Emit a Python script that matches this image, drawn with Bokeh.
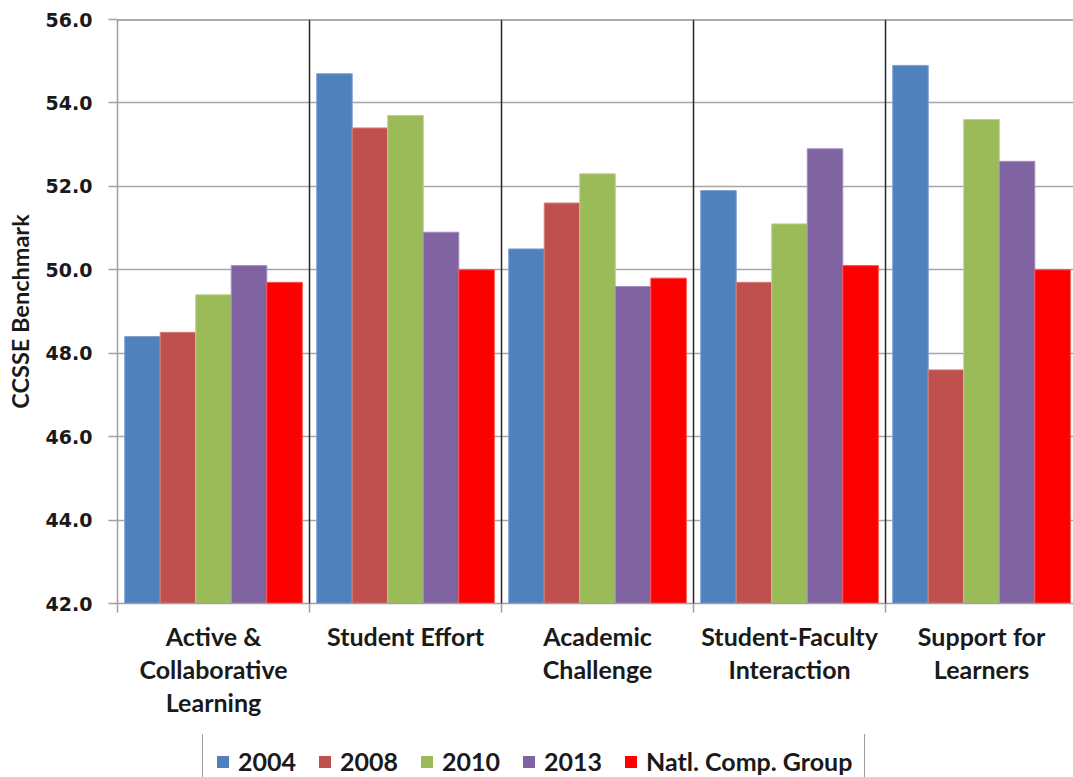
from bokeh.plotting import figure
from bokeh.layouts import column
from bokeh.models import (Range1d, FixedTicker, Span, Legend, LegendItem,
                          ColumnDataSource, PrintfTickFormatter)
from bokeh.embed import file_html
from bokeh.resources import INLINE

# ---- data -------------------------------------------------------------
categories = [
    "Active &\nCollaborative\nLearning",
    "Student Effort",
    "Academic\nChallenge",
    "Student-Faculty\nInteraction",
    "Support for\nLearners",
]
series_names = ["2004", "2008", "2010", "2013", "Natl. Comp. Group"]
v2004 = [48.4, 54.7, 50.5, 51.9, 54.9]
v2008 = [48.5, 53.4, 51.6, 49.7, 47.6]
v2010 = [49.4, 53.7, 52.3, 51.1, 53.6]
v2013 = [50.1, 50.9, 49.6, 52.9, 52.6]
natl = [49.7, 50.0, 49.8, 50.1, 50.0]
y_ticks = [42, 44, 46, 48, 50, 52, 54, 56]

series_values = [v2004, v2008, v2010, v2013, natl]
fill_colors = ["#4F81BD", "#C0504D", "#9BBB59", "#8064A2", "#FF0000"]
edge_colors = ["#7FA3D2", "#D47E7C", "#B8D08A", "#A38DBE", "#FF5050"]

TEXT = "#1A1A1A"
LABEL_FONT = "Lato"

# ---- chart ------------------------------------------------------------
p = figure(width=1073, height=734, output_backend="svg", toolbar_location=None,
           x_range=Range1d(0, 4.979), y_range=Range1d(42, 56),
           min_border_left=117, min_border_right=0, min_border_top=19,
           min_border_bottom=131)
p.background_fill_color = "white"
p.border_fill_color = "white"
p.outline_line_color = None

bar_w = 0.185
n_series = len(series_names)
sources = []
for k, vals in enumerate(series_values):
    offset = (k - (n_series - 1) / 2) * bar_w
    src = ColumnDataSource(dict(
        x=[i + 0.5 + offset for i in range(len(categories))],
        top=vals,
    ))
    sources.append(src)
    p.vbar(x="x", top="top", bottom=42, width=bar_w, source=src,
           fill_color=fill_colors[k], line_color=edge_colors[k], line_width=1)

# grid and frame lines
p.xgrid.visible = False
p.ygrid.ticker = FixedTicker(ticks=y_ticks)
p.ygrid.grid_line_color = "#A6A6A6"
p.ygrid.grid_line_width = 1.5

for b in range(1, len(categories)):
    p.add_layout(Span(location=b, dimension="height", line_color="#262626",
                      line_width=1.5))
p.add_layout(Span(location=56, dimension="width", line_color="#595959",
                  line_width=2))

# y axis
yax = p.yaxis[0]
yax.ticker = FixedTicker(ticks=y_ticks)
yax.formatter = PrintfTickFormatter(format="%.1f")
yax.axis_label = "CCSSE Benchmark"
yax.axis_label_text_font = LABEL_FONT
yax.axis_label_text_font_style = "bold"
yax.axis_label_text_font_size = "23.5px"
yax.axis_label_text_color = TEXT
yax.axis_label_standoff = 9
yax.major_label_text_font = "DejaVu Sans"
yax.major_label_text_font_style = "bold"
yax.major_label_text_font_size = "19px"
yax.major_label_text_color = TEXT
yax.major_label_standoff = 16
yax.axis_line_color = "#A0A0A0"
yax.axis_line_width = 1.5
yax.major_tick_line_color = "#A0A0A0"
yax.major_tick_line_width = 1.5
yax.major_tick_out = 9
yax.major_tick_in = 0
yax.minor_tick_line_color = None

# x axis: labels at group centres, short ticks at group boundaries
xax = p.xaxis[0]
xax.ticker = FixedTicker(ticks=[i + 0.5 for i in range(len(categories))],
                         minor_ticks=list(range(len(categories) + 1)))
xax.major_label_overrides = {i + 0.5: c for i, c in enumerate(categories)}
xax.major_label_text_font = LABEL_FONT
xax.major_label_text_font_style = "bold"
xax.major_label_text_font_size = "25px"
xax.major_label_text_color = TEXT
xax.major_label_text_line_height = 1.1
xax.major_label_standoff = 8
xax.axis_line_color = "#A0A0A0"
xax.axis_line_width = 1.5
xax.major_tick_line_color = None
xax.major_tick_out = 0
xax.major_tick_in = 0
xax.minor_tick_line_color = "#A0A0A0"
xax.minor_tick_line_width = 1.5
xax.minor_tick_out = 9
xax.minor_tick_in = 0

# ---- legend strip -----------------------------------------------------
# The strip shares the series sources; its ranges lie far away from the
# data, so only the legend swatches of these renderers are visible.
lg = figure(width=1073, height=43, output_backend="svg", toolbar_location=None,
            x_range=Range1d(1000, 1001), y_range=Range1d(1000, 1001),
            x_axis_location=None, y_axis_location=None,
            min_border=0)
lg.grid.visible = False
lg.outline_line_color = None
lg.background_fill_color = "white"
lg.border_fill_color = "white"

swatches = [lg.vbar(x="x", top="top", bottom=42, width=bar_w, source=src,
                    fill_color=c, line_color=None)
            for src, c in zip(sources, fill_colors)]

legend = Legend(
    items=[LegendItem(label=n, renderers=[r]) for n, r in zip(series_names, swatches)],
    orientation="horizontal",
    location=(85, -12),
    label_text_font=LABEL_FONT,
    label_text_font_style="bold",
    label_text_font_size="25px",
    label_text_color=TEXT,
    label_height=26,
    glyph_width=15,
    glyph_height=15,
    label_standoff=8,
    spacing=21,
    padding=12,
    margin=0,
    border_line_color="#404040",
    border_line_width=1.5,
    background_fill_color="white",
    background_fill_alpha=1.0,
)
lg.add_layout(legend)

layout = column(p, lg, spacing=0)
open("out.html", "w").write(file_html(layout, INLINE))
